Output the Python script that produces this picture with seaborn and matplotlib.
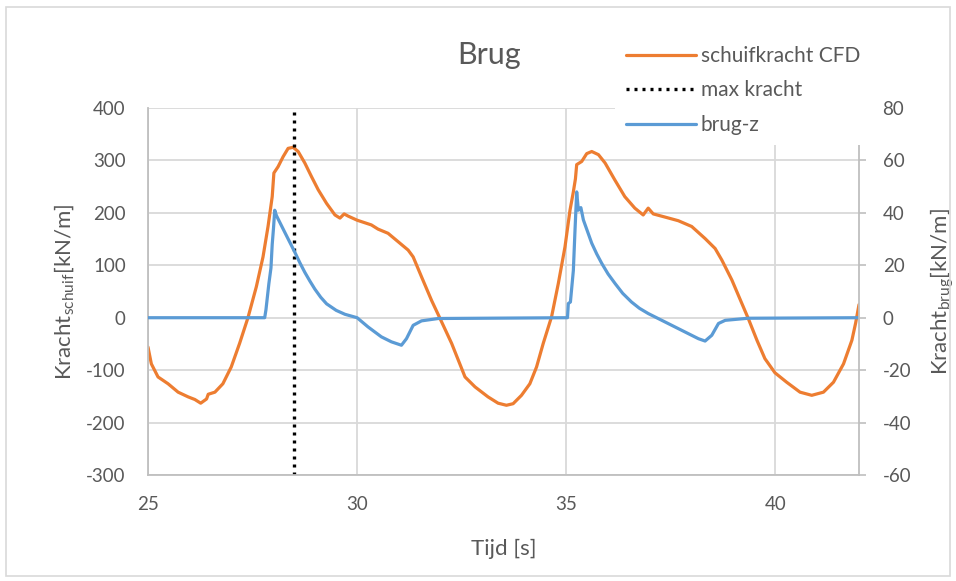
import matplotlib
matplotlib.use("Agg")
import matplotlib.pyplot as plt
import seaborn as sns
import pandas as pd
from matplotlib.patches import Rectangle

# ---- data ----
t_cfd = [25.0, 25.08, 25.24, 25.48, 25.72, 25.96, 26.12, 26.26, 26.40, 26.44,
         26.6, 26.79, 26.99, 27.19, 27.39, 27.59, 27.75, 27.87, 27.97, 28.01,
         28.11, 28.23, 28.35, 28.47, 28.59, 28.75, 28.91, 29.07, 29.27, 29.47,
         29.59, 29.69, 29.78, 30.0, 30.34, 30.50, 30.74, 30.98, 31.22, 31.34,
         31.54, 31.78, 31.98, 32.26, 32.42, 32.58, 32.82, 33.13, 33.37, 33.57,
         33.73, 33.93, 34.13, 34.29, 34.45, 34.65, 34.81, 34.97, 35.09, 35.17,
         35.22, 35.25, 35.37, 35.49, 35.61, 35.77, 35.93, 36.16, 36.40, 36.64,
         36.84, 36.96, 37.08, 37.36, 37.68, 38.0, 38.32, 38.56, 38.72, 38.96,
         39.20, 39.35, 39.56, 39.75, 39.99, 40.27, 40.59, 40.87, 41.15, 41.39,
         41.63, 41.83, 41.92, 42.0]
schuifkracht = [-56, -88, -113, -126, -142, -151, -156, -163, -155, -146,
                -142, -126, -94, -49, 0, 59, 116, 174, 231, 276,
                288, 307, 323, 325, 317, 295, 269, 244, 218, 196,
                190, 198, 194, 186, 177, 169, 161, 145, 129, 116,
                78, 33, -1, -49, -81, -113, -132, -151, -163, -167,
                -164, -148, -126, -94, -49, 2, 65, 135, 205, 240,
                265, 292, 298, 313, 317, 311, 295, 263, 231, 209,
                196, 209, 198, 192, 185, 174, 151, 132, 110, 72,
                27, -1, -43, -78, -105, -123, -142, -148, -142, -123,
                -88, -43, -10, 25]

t_brug = [25.0, 27.79, 27.82, 27.89, 27.94, 27.97, 28.0, 28.03, 28.07, 28.11,
          28.27, 28.39, 28.51, 28.63, 28.75, 28.87, 28.99, 29.13, 29.27, 29.5,
          29.71, 30.0, 30.26, 30.58, 30.82, 31.06, 31.18, 31.34, 31.54, 31.94,
          35.03, 35.05, 35.1, 35.17, 35.21, 35.25, 35.29, 35.35, 35.41, 35.61,
          35.73, 35.85, 36.0, 36.17, 36.35, 36.56, 36.75, 36.96, 37.36, 37.76,
          38.16, 38.32, 38.48, 38.64, 38.8, 39.35, 42.0]
brug_z = [0, 0, 3, 13, 19, 28, 34, 41, 39, 37.7,
          32.6, 28.8, 25, 21, 17.3, 14, 10.9, 7.8, 5.3, 2.8,
          1.3, 0, -3.5, -7.3, -9.2, -10.5, -8, -2.9, -1.2, -0.3,
          0, 5.4, 6, 18, 33.5, 48, 41, 42, 37.3, 28.4,
          24.3, 20.7, 16.7, 13, 9.3, 6, 3.6, 1.6, -1.6, -4.8,
          -8, -8.9, -6.7, -2.2, -1, -0.2, 0]

t_max = [28.48, 28.48]
max_kracht = [-300, 400]

x_ticks = [25, 30, 35, 40]
y_left_ticks = [-300, -200, -100, 0, 100, 200, 300, 400]
y_right_ticks = [-60, -40, -20, 0, 20, 40, 60, 80]

# ---- style ----
sns.set_theme(style="white")
plt.rcParams['font.family'] = ['Lato', 'DejaVu Sans']
plt.rcParams['mathtext.fontset'] = 'custom'
plt.rcParams['mathtext.rm'] = 'Lato'
plt.rcParams['mathtext.it'] = 'Lato:italic'
plt.rcParams['mathtext.bf'] = 'Lato:bold'
plt.rcParams['axes.unicode_minus'] = False

TXT = '#595959'
GRID = '#D9D9D9'
ORANGE = '#ED7D31'
BLUE = '#5B9BD5'

fig = plt.figure(figsize=(9.56, 5.81), dpi=100)
ax1 = fig.add_axes([148/956, 1-475/581, (859-148)/956, (475-108)/581])
ax2 = ax1.twinx()

df_cfd = pd.DataFrame({'t': t_cfd, 'v': schuifkracht})
df_max = pd.DataFrame({'t': t_max, 'v': max_kracht})
df_brug = pd.DataFrame({'t': t_brug, 'v': brug_z})

sns.lineplot(data=df_cfd, x='t', y='v', ax=ax1, color=ORANGE, lw=2.3,
             estimator=None, sort=False, label='schuifkracht CFD', legend=False)
sns.lineplot(data=df_max, x='t', y='v', ax=ax1, color='black', lw=2.4,
             estimator=None, sort=False, label='max kracht', legend=False,
             linestyle=(0, (0.9, 1.5)))
sns.lineplot(data=df_brug, x='t', y='v', ax=ax2, color=BLUE, lw=2.3,
             estimator=None, sort=False, label='brug-z', legend=False)

ax1.set_xlim(25, 42)
ax1.set_ylim(-300, 400)
ax2.set_ylim(-60, 80)
ax1.set_xticks(x_ticks)
ax1.set_yticks(y_left_ticks)
ax2.set_yticks(y_right_ticks)

ax1.grid(True, color=GRID, lw=1.3)
ax2.grid(False)

for ax in (ax1, ax2):
    for s in ax.spines.values():
        s.set_visible(False)
ax1.spines['left'].set_visible(True)
ax1.spines['left'].set_color('#BFBFBF')
ax1.spines['bottom'].set_visible(True)
ax1.spines['bottom'].set_color('#BFBFBF')
ax2.spines['right'].set_visible(True)
ax2.spines['right'].set_color('#BFBFBF')
for s in ('left', 'bottom'):
    ax1.spines[s].set_linewidth(1.3)
ax2.spines['right'].set_linewidth(1.3)

ax1.tick_params(axis='y', length=0, pad=16, labelsize=13.5, labelcolor=TXT)
ax1.tick_params(axis='x', length=0, pad=15, labelsize=13.5, labelcolor=TXT)
ax2.tick_params(axis='y', length=5, width=1.2, color='#BFBFBF', pad=12,
                labelsize=13.5, labelcolor=TXT, right=True)
ax1.tick_params(axis='y', left=False)

ax1.set_xlabel('Tijd [s]', fontsize=16, color=TXT)
ax1.xaxis.set_label_coords(0.5, -0.175)
ax1.set_ylabel(r'Kracht$_{\mathrm{schuif}}$[kN/m]', fontsize=16, color=TXT)
ax1.yaxis.set_label_coords(-0.101, 0.5)
ax2.set_ylabel(r'Kracht$_{\mathrm{brug}}$[kN/m]', fontsize=16, color=TXT)
ax2.yaxis.set_label_coords(1.098, 0.5)

fig.text(489/956, 1-55/581, 'Brug', fontsize=22, color=TXT, ha='center', va='center')

h1, l1 = ax1.get_legend_handles_labels()
h2, l2 = ax2.get_legend_handles_labels()
leg = ax2.legend(h1 + h2, l1 + l2, loc='upper left',
                 bbox_to_anchor=(605/956, 1-25/581), bbox_transform=fig.transFigure,
                 frameon=True, facecolor='white', edgecolor='none', framealpha=1,
                 fontsize=15, handlelength=3.35, handletextpad=0.25,
                 labelspacing=0.7, borderpad=0.5, fancybox=False)
for t in leg.get_texts():
    t.set_color(TXT)
leg.set_zorder(10)

fig.patches.append(Rectangle((6/956, 5/581), 944/956, 569/581, transform=fig.transFigure,
                             fill=False, edgecolor='#D9D9D9', lw=1.2))

fig.savefig('out.png', dpi=100)
